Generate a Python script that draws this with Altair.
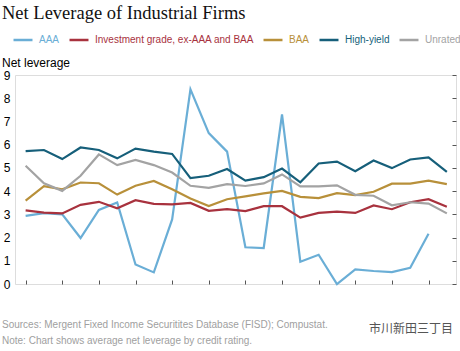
import altair as alt
import pandas as pd

years = list(range(1995, 2019))
series_names = ["AAA", "Investment grade, ex-AAA and BAA", "BAA", "High-yield", "Unrated"]
colors = ["#6aaed6", "#a8323e", "#b8903a", "#165f7a", "#a3a3a3"]

aaa = [2.93, 3.05, 3.0, 1.98, 3.19, 3.51, 0.84, 0.5, 2.78, 8.38, 6.5, 5.7,
       1.58, 1.55, 7.3, 0.96, 1.26, 0.0, 0.63, 0.56, 0.51, 0.70, 2.16, None]
inv = [3.17, 3.07, 3.04, 3.41, 3.54, 3.26, 3.61, 3.45, 3.43, 3.49, 3.15, 3.22,
       3.14, 3.35, 3.35, 2.86, 3.06, 3.12, 3.06, 3.38, 3.22, 3.52, 3.65, 3.33]
baa = [3.59, 4.21, 4.08, 4.37, 4.34, 3.85, 4.23, 4.44, 4.08, 3.68, 3.36, 3.65,
       3.77, 3.9, 4.01, 3.75, 3.7, 3.91, 3.83, 3.97, 4.32, 4.32, 4.45, 4.3]
hy = [5.72, 5.77, 5.38, 5.88, 5.77, 5.41, 5.83, 5.7, 5.6, 4.56, 4.66, 4.95,
      4.45, 4.6, 4.97, 4.38, 5.19, 5.27, 4.86, 5.32, 4.99, 5.36, 5.45, 4.83]
unrated = [5.09, 4.34, 4.01, 4.66, 5.58, 5.12, 5.34, 5.12, 4.8, 4.23, 4.14, 4.3,
           4.22, 4.33, 4.72, 4.2, 4.2, 4.25, 3.84, 3.8, 3.39, 3.52, 3.46, 3.04]

rows = []
for name, vals in zip(series_names, [aaa, inv, baa, hy, unrated]):
    for y, v in zip(years, vals):
        if v is not None:
            rows.append({"year": y, "series": name, "value": v})
df = pd.DataFrame(rows)

W, H = 441, 209

lines = alt.Chart(df).mark_line(strokeWidth=2.2).encode(
    x=alt.X("year:Q", scale=alt.Scale(domain=[1994.42, 2018.5], nice=False, zero=False),
            axis=alt.Axis(values=years, format="d", title=None, grid=False, domain=False,
                          tickSize=4, offset=-4, tickColor="#555", tickWidth=1,
                          labelExpr="datum.value % 2 == 0 ? datum.label : ''",
                          labelPadding=6, labelFontSize=12, labelColor="#000",
                          labelFont="Liberation Sans", labelFlush=False)),
    y=alt.Y("value:Q", scale=alt.Scale(domain=[0, 9], nice=False),
            axis=alt.Axis(values=list(range(0, 10)), title=None, grid=False, domain=False,
                          ticks=False, labelPadding=5, labelFontSize=12, labelColor="#000",
                          labelFont="Liberation Sans")),
    color=alt.Color("series:N", scale=alt.Scale(domain=series_names, range=colors),
                    legend=alt.Legend(orient="none", legendX=-3, legendY=-46, direction="horizontal",
                                      title=None, symbolType="stroke", symbolSize=360,
                                      symbolStrokeWidth=2.5, labelOffset=5, columnPadding=4,
                                      labelFont="Liberation Sans", labelFontSize=10,
                                      labelColor=alt.ExprRef("scale('color', datum.value)"),
                                      labelLimit=300)),
)

right_ticks = alt.Chart(df).mark_line(opacity=0).encode(
    x=alt.X("year:Q", scale=alt.Scale(domain=[1994.42, 2018.5], nice=False, zero=False)),
    y=alt.Y("value:Q", scale=alt.Scale(domain=[0, 9], nice=False),
            axis=alt.Axis(orient="right", values=list(range(0, 10)), labels=False, title=None,
                          grid=False, domain=False, tickSize=4, offset=-4, tickColor="#555")),
)

title = alt.Chart(pd.DataFrame({"t": ["Net Leverage of Industrial Firms"]})).mark_text(
    align="left", baseline="alphabetic", font="Liberation Serif",
    fontSize=18.5, color="#111").encode(
    x=alt.value(-13), y=alt.value(-56), text="t:N")
ylab = alt.Chart(pd.DataFrame({"t": ["Net leverage"]})).mark_text(
    align="left", baseline="middle", font="Liberation Sans", fontSize=12, color="#000").encode(
    x=alt.value(-13), y=alt.value(-12), text="t:N")
src = alt.Chart(pd.DataFrame({"t": ["Sources: Mergent Fixed Income Securitites Database (FISD); Compustat."]})).mark_text(
    align="left", baseline="middle", font="Liberation Sans", fontSize=10, color="#a0a0a0").encode(
    x=alt.value(-13), y=alt.value(250), text="t:N")
note = alt.Chart(pd.DataFrame({"t": ["Note: Chart shows average net leverage by credit rating."]})).mark_text(
    align="left", baseline="middle", font="Liberation Sans", fontSize=10, color="#a0a0a0").encode(
    x=alt.value(-13), y=alt.value(266), text="t:N")
wm = alt.Chart(pd.DataFrame({"t": ["市川新田三丁目"]})).mark_text(
    align="left", baseline="middle", font="Noto Sans CJK SC", fontSize=12, color="#555").encode(
    x=alt.value(354), y=alt.value(254), text="t:N")

chart = alt.layer(right_ticks, lines, title, ylab, src, note, wm).resolve_axis(y="independent").properties(
    width=W, height=H, autosize="none",
    padding={"left": 15, "top": 75, "right": 4, "bottom": 67},
).configure_view(stroke="#888", strokeWidth=1).configure(background="white")

chart.save("out.html", embed_options={"renderer": "svg", "actions": False})
